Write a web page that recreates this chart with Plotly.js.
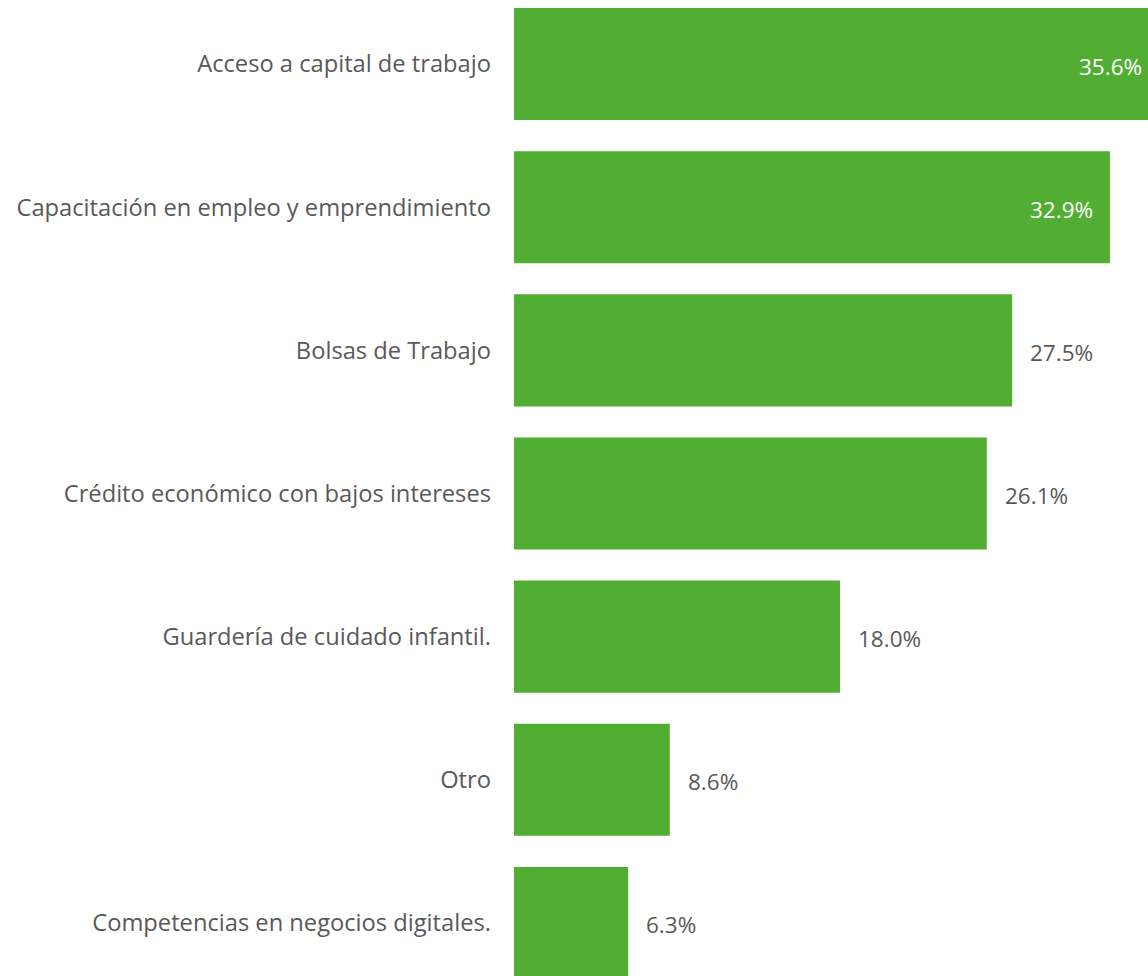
<!DOCTYPE html>
<html>
<head>
<meta charset="utf-8">
<script src="https://cdn.plot.ly/plotly-3.0.1.min.js"></script>
<style>html,body{margin:0;padding:0;background:#fff;}#chart{width:1148px;height:976px;}</style>
</head>
<body>
<div id="chart"></div>
<script>
const categories = [
  "Acceso a capital de trabajo",
  "Capacitación en empleo y emprendimiento",
  "Bolsas de Trabajo",
  "Crédito económico con bajos intereses",
  "Guardería de cuidado infantil.",
  "Otro",
  "Competencias en negocios digitales."
];
const values = [35.6, 32.9, 27.5, 26.1, 18.0, 8.6, 6.3];
const labels = values.map(v => v.toFixed(1) + "%");

const xMax = 35;
const fontFamily = "'Open Sans', 'Noto Sans', sans-serif";
const gray = "#595959";

const annotations = values.map((v, i) => {
  const inside = v > 30;
  return {
    x: Math.min(v, xMax), y: categories[i], xref: "x", yref: "y",
    text: labels[i], showarrow: false,
    xanchor: inside ? "right" : "left",
    xshift: inside ? (v > xMax ? -4 : -15) : 16,
    yshift: -2,
    font: {family: fontFamily, size: 22.5, color: inside ? "#ffffff" : gray}
  };
});

Plotly.newPlot("chart", [{
  type: "bar", orientation: "h",
  y: categories, x: values,
  marker: {color: "#52AE32"},
  hoverinfo: "none"
}], {
  width: 1148, height: 976,
  margin: {l: 514, r: 0, t: 0, b: 0},
  paper_bgcolor: "#ffffff", plot_bgcolor: "#ffffff",
  bargap: 0.217,
  showlegend: false,
  xaxis: {range: [0, xMax], showgrid: false, zeroline: false, showticklabels: false, showline: false},
  yaxis: {
    type: "category", range: [6.3706, -0.4476],
    showgrid: false, zeroline: false, showline: false,
    ticks: "", ticklabelstandoff: 22,
    tickfont: {family: fontFamily, size: 23.7, color: gray}
  },
  annotations: annotations
}, {displayModeBar: false, staticPlot: true});
</script>
</body>
</html>
